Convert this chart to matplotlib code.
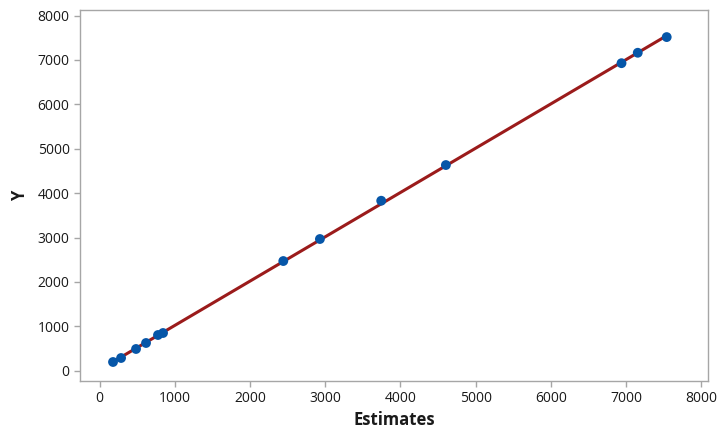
import numpy as np
import matplotlib
matplotlib.use("Agg")
import matplotlib.pyplot as plt

estimates = [179, 286, 485, 618, 777, 844, 2443, 2930, 3745, 4605, 6940, 7156, 7541]
y_values = [196, 286, 489, 624, 804, 849, 2470, 2966, 3828, 4632, 6926, 7161, 7514]
x_ticks = [0, 1000, 2000, 3000, 4000, 5000, 6000, 7000, 8000]
y_ticks = [0, 1000, 2000, 3000, 4000, 5000, 6000, 7000, 8000]

plt.rcParams['font.family'] = ['Open Sans', 'DejaVu Sans']

fig = plt.figure(figsize=(7.17, 4.28), dpi=100)
ax = fig.add_axes([80/717, 1-381/428, (708-80)/717, (381-10)/428])

x = np.array(estimates, dtype=float)
y = np.array(y_values, dtype=float)
b, a = np.polyfit(x, y, 1)
xl = np.array([x.min(), x.max()])
ax.plot(xl, a + b*xl, color='#9b1b1b', lw=2.2, zorder=2, solid_capstyle='round')
ax.scatter(x, y, s=50, color='#0656a8', zorder=3, edgecolors='none')

ax.set_xlim(-260, 8090)
ax.set_ylim(-232, 8124)
ax.set_xticks(x_ticks)
ax.set_yticks(y_ticks)
for s in ax.spines.values():
    s.set_color('#a6a6a6')
    s.set_linewidth(1.0)
ax.tick_params(axis='both', colors='#a6a6a6', labelcolor='#1a1a1a', labelsize=10, length=4, width=1)
for lab in ax.get_xticklabels() + ax.get_yticklabels():
    lab.set_fontweight('medium')
ax.set_xlabel('Estimates', fontsize=12, fontweight='bold', color='#1a1a1a', labelpad=3)
ax.set_ylabel('Y', fontsize=12, fontweight='bold', color='#1a1a1a', labelpad=6)

fig.savefig('out.png', dpi=100)
